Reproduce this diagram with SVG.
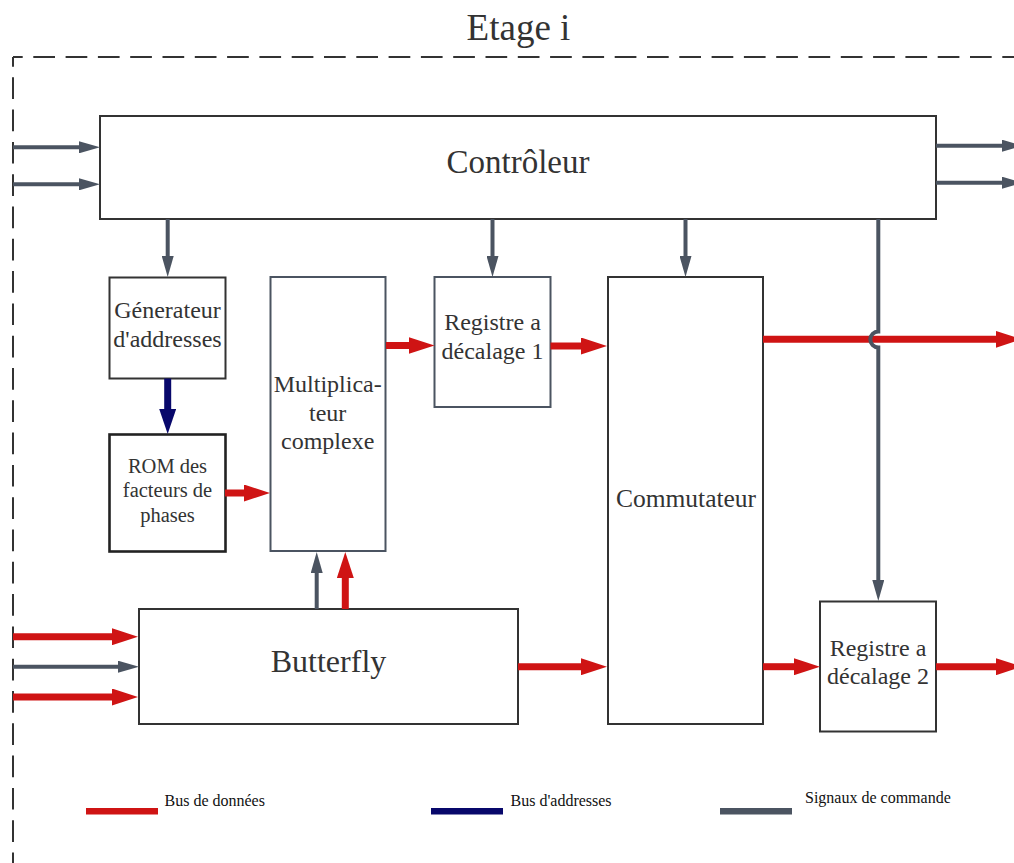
<svg xmlns="http://www.w3.org/2000/svg" width="1014" height="863" viewBox="0 0 1014 863">
  <style>
    .box { fill: #ffffff; stroke: #333333; stroke-width: 2; }
    .box-slate { fill: #ffffff; stroke: #4b5461; stroke-width: 2; }
    .box-heavy { fill: #ffffff; stroke: #222222; stroke-width: 2.6; }
    .lbl { font-family: "Liberation Serif", "Times New Roman", serif; fill: #333333; text-anchor: middle; }
    .leg { font-family: "Liberation Serif", "Times New Roman", serif; fill: #111111; font-size: 16px; }
    .data { fill: none; stroke: #cf1414; stroke-width: 7; marker-end: url(#headData); }
    .addr { fill: none; stroke: #08086b; stroke-width: 7; marker-end: url(#headAddr); }
    .ctrl { fill: none; stroke: #4b5461; stroke-width: 4; marker-end: url(#headCtrl); }
    .frame { fill: none; stroke: #333333; stroke-width: 2; stroke-dasharray: 21.7 10.6; stroke-dashoffset: 12; }
  </style>
  <defs>
    <marker id="headData" markerUnits="userSpaceOnUse" markerWidth="26" markerHeight="17" viewBox="0 0 26 17" refX="1" refY="8.5" orient="auto">
      <path d="M0,0 L26,8.5 L0,17 Z" fill="#cf1414"/>
    </marker>
    <marker id="headAddr" markerUnits="userSpaceOnUse" markerWidth="25" markerHeight="17" viewBox="0 0 25 17" refX="1" refY="8.5" orient="auto">
      <path d="M0,0 L25,8.5 L0,17 Z" fill="#08086b"/>
    </marker>
    <marker id="headCtrl" markerUnits="userSpaceOnUse" markerWidth="21" markerHeight="12" viewBox="0 0 21 12" refX="1" refY="6" orient="auto">
      <path d="M0,0 L21,6 L0,12 Z" fill="#4b5461"/>
    </marker>
  </defs>

  <rect width="1014" height="863" fill="#ffffff"/>

  <!-- stage frame -->
  <text class="lbl" x="518.5" y="39.5" font-size="37">Etage i</text>
  <path class="frame" d="M13,57 H1014"/>
  <path class="frame" d="M13,57 V863"/>

  <!-- blocks -->
  <g id="controleur">
    <rect class="box" x="100" y="116" width="836" height="103"/>
    <text class="lbl" x="518" y="173.3" font-size="33">Contrôleur</text>
  </g>
  <g id="generateur">
    <rect class="box" x="109.5" y="277.5" width="116" height="101" stroke-width="1.6"/>
    <text class="lbl" x="167.5" y="318" font-size="24">Génerateur</text>
    <text class="lbl" x="167.5" y="346.7" font-size="24">d'addresses</text>
  </g>
  <g id="rom">
    <rect class="box-heavy" x="109.5" y="434.5" width="116" height="117"/>
    <text class="lbl" x="167.5" y="472.7" font-size="20.5">ROM des</text>
    <text class="lbl" x="167.5" y="497.3" font-size="20.5">facteurs de</text>
    <text class="lbl" x="167.5" y="522" font-size="20.5">phases</text>
  </g>
  <g id="multiplicateur">
    <rect class="box-slate" x="270.5" y="277" width="115" height="274"/>
    <text class="lbl" x="327.7" y="391.7" font-size="24">Multiplica-</text>
    <text class="lbl" x="327.7" y="420.7" font-size="24">teur</text>
    <text class="lbl" x="327.7" y="449.3" font-size="24">complexe</text>
  </g>
  <g id="registre1">
    <rect class="box-slate" x="434.5" y="277" width="116" height="130"/>
    <text class="lbl" x="492.5" y="330" font-size="24">Registre a</text>
    <text class="lbl" x="492.5" y="359" font-size="24">décalage 1</text>
  </g>
  <g id="commutateur">
    <rect class="box" x="608" y="277" width="155" height="447"/>
    <text class="lbl" x="686" y="507.3" font-size="25.5">Commutateur</text>
  </g>
  <g id="registre2">
    <rect class="box" x="820" y="601.5" width="116" height="130"/>
    <text class="lbl" x="878" y="655.7" font-size="24">Registre a</text>
    <text class="lbl" x="878" y="684" font-size="24">décalage 2</text>
  </g>
  <g id="butterfly">
    <rect class="box" x="139" y="609" width="379" height="115"/>
    <text class="lbl" x="328.5" y="672.3" font-size="32">Butterfly</text>
  </g>

  <!-- connectors -->
  <g id="connectors">
    <!-- data bus -->
    <path class="data" d="M225,493 H245"/>
    <path class="data" d="M386,345.5 H409.5"/>
    <path class="data" d="M550.5,346 H582"/>
    <path class="data" d="M763,339.3 H996.5"/>
    <path class="data" d="M518,666.7 H582"/>
    <path class="data" d="M763,666.7 H795"/>
    <path class="data" d="M936,666.7 H997"/>
    <path class="data" d="M345.3,609 V577"/>
    <path class="data" d="M13,636.7 H113"/>
    <path class="data" d="M13,697 H113"/>
    <!-- address bus -->
    <path class="addr" d="M167.7,378.5 V410"/>
    <!-- control signals -->
    <path class="ctrl" d="M13,147.3 H80"/>
    <path class="ctrl" d="M13,184.3 H80"/>
    <path class="ctrl" d="M936,145.7 H1003"/>
    <path class="ctrl" d="M936,182.7 H1003"/>
    <path class="ctrl" d="M167.7,219 V257"/>
    <path class="ctrl" d="M492.5,219 V257"/>
    <path class="ctrl" d="M685.5,219 V257"/>
    <path class="ctrl" d="M878.3,219 V331.5 A8,8 0 0 0 878.3,347.5 V581"/>
    <path class="ctrl" d="M316.7,609 V572"/>
    <path class="ctrl" d="M13,666.7 H119"/>
  </g>

  <!-- legend -->
  <g id="legend">
    <rect x="86" y="808" width="72" height="6.5" fill="#cf1414"/>
    <text class="leg" x="164.5" y="806">Bus de données</text>
    <rect x="431" y="808" width="72" height="6.5" fill="#08086b"/>
    <text class="leg" x="510.5" y="806">Bus d'addresses</text>
    <rect x="720" y="808" width="72" height="6.5" fill="#4b5461"/>
    <text class="leg" x="805" y="803">Signaux de commande</text>
  </g>
</svg>
